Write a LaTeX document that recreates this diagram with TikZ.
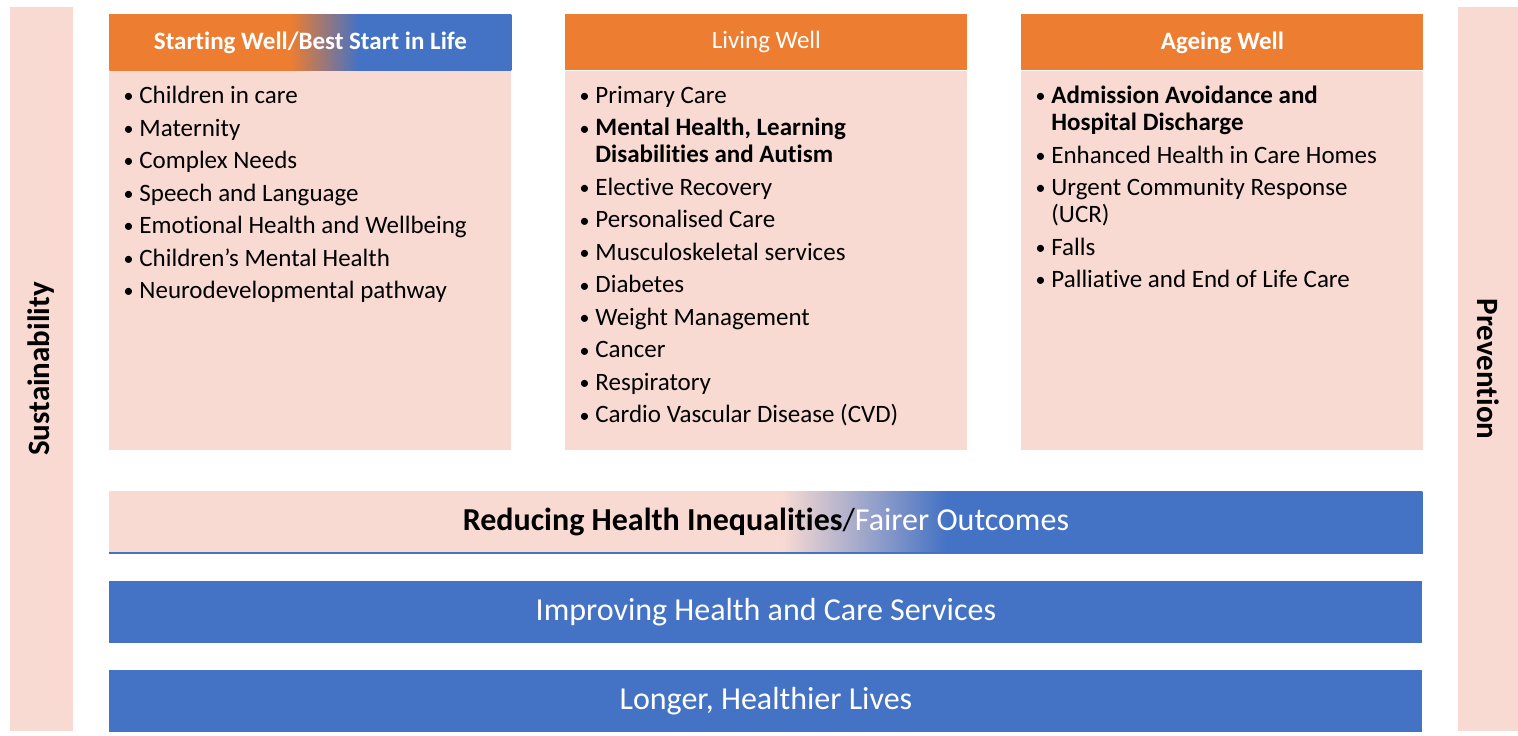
\documentclass[tikz,border=0pt]{standalone}
\usepackage{fontspec}
\setmainfont[Ligatures={NoCommon}]{Carlito}
\usetikzlibrary{positioning}
\definecolor{orng}{HTML}{ED7D31}
\definecolor{blu}{HTML}{4472C4}
\definecolor{pnk}{HTML}{F8DAD2}
\newcommand{\pxl}[0]{0.5pt}
\newcommand{\itemGap}[0]{2.75pt}
\newcommand{\bul}[0]{\makebox[8.5pt][l]{\hspace{0.6pt}\raisebox{0.4pt}{\scalebox{0.8}{\textbullet}}}}
\newcommand{\hang}[0]{\hspace*{8.5pt}}
\pgfdeclarehorizontalshading{startShade}{100bp}{color(0bp)=(orng); color(47.5bp)=(orng); color(56bp)=(blu); color(100bp)=(blu)}
\pgfdeclarehorizontalshading{fairShade}{100bp}{color(0bp)=(pnk); color(50.6bp)=(pnk); color(56.9bp)=(blu); color(100bp)=(blu)}
\begin{document}
\begin{tikzpicture}[x=\pxl, y=-\pxl]
  \tikzset{
    sidebar/.style={fill=pnk, inner sep=0pt, minimum width=724*\pxl, minimum height=63*\pxl,
      font=\bfseries\fontsize{15.5}{18}\selectfont},
    hdr/.style={fill=orng, text=white, anchor=north west, inner sep=0pt,
      minimum width=402*\pxl, minimum height=56*\pxl, font=\bfseries\fontsize{12.5}{15}\selectfont},
    body/.style={fill=pnk, inner sep=0pt, minimum width=402*\pxl, minimum height=379*\pxl},
    list/.style={anchor=north west, inner sep=0pt, align=left, font=\fontsize{12.5}{13.5}\selectfont},
    bar/.style={anchor=north west, inner sep=0pt, minimum width=1313*\pxl, minimum height=62*\pxl,
      font=\fontsize{16}{19}\selectfont}
  }
  \useasboundingbox (0,0) rectangle (1518,735);
  % side pillars
  \node[sidebar, rotate=90] (sust) at (41.5,369) {Sustainability};
  \node[sidebar, minimum width=724*\pxl, minimum height=60*\pxl, rotate=-90] (prev) at (1488,369) {Prevention};
  % the three life stages
  \node[hdr, shading=startShade] (startHdr) at (109,14) {Starting Well/Best Start in Life};
  \node[hdr, font=\fontsize{12.5}{15}\selectfont] (livingHdr) at (565,14) {Living Well};
  \node[hdr] (ageingHdr) at (1021,14) {Ageing Well};
  \node[body, below=0pt of startHdr] (startBody) {};
  \node[body, below=0pt of livingHdr] (livingBody) {};
  \node[body, below=0pt of ageingHdr] (ageingBody) {};
  \node[list, below right=15*\pxl and 13*\pxl of startBody.north west] (startList) {%
    \bul Children in care\\[\itemGap]
    \bul Maternity\\[\itemGap]
    \bul Complex Needs\\[\itemGap]
    \bul Speech and Language\\[\itemGap]
    \bul Emotional Health and Wellbeing\\[\itemGap]
    \bul Children’s Mental Health\\[\itemGap]
    \bul Neurodevelopmental pathway};
  \node[list, below right=15*\pxl and 13*\pxl of livingBody.north west] (livingList) {%
    \bul Primary Care\\[\itemGap]
    \bul \textbf{Mental Health, Learning}\\
    \hang\textbf{Disabilities and Autism}\\[\itemGap]
    \bul Elective Recovery\\[\itemGap]
    \bul Personalised Care\\[\itemGap]
    \bul Musculoskeletal services\\[\itemGap]
    \bul Diabetes\\[\itemGap]
    \bul Weight Management\\[\itemGap]
    \bul Cancer\\[\itemGap]
    \bul Respiratory\\[\itemGap]
    \bul Cardio Vascular Disease (CVD)};
  \node[list, below right=15*\pxl and 13*\pxl of ageingBody.north west] (ageingList) {%
    \bul \textbf{Admission Avoidance and}\\
    \hang\textbf{Hospital Discharge}\\[\itemGap]
    \bul Enhanced Health in Care Homes\\[\itemGap]
    \bul Urgent Community Response\\
    \hang(UCR)\\[\itemGap]
    \bul Falls\\[\itemGap]
    \bul Palliative and End of Life Care};
  % foundations
  \node[bar, shading=fairShade, minimum height=61*\pxl] (fairBar) at (109,491)
    {\textbf{Reducing Health Inequalities}/\textcolor{white}{Fairer Outcomes}};
  \draw[blu, line width=1.5*\pxl] (fairBar.south west) -- (fairBar.south east);
  \node[bar, fill=blu, text=white] (careBar) at (109,581) {Improving Health and Care Services};
  \node[bar, fill=blu, text=white] (livesBar) at (109,670) {Longer, Healthier Lives};
\end{tikzpicture}
\end{document}
